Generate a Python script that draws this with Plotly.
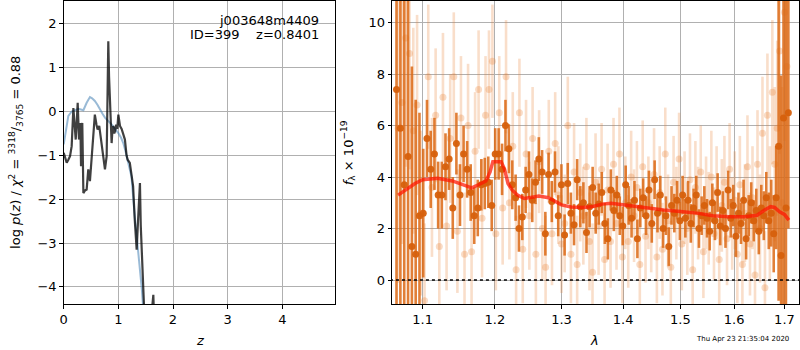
import numpy as np
import plotly.graph_objects as go

# ---------------- Left panel data ----------------
z_pz = [0.0, 0.04, 0.085, 0.146, 0.2, 0.27, 0.33, 0.36, 0.42, 0.48, 0.52, 0.57, 0.62, 0.66,
        0.71, 0.755, 0.82, 0.88, 0.94, 1.0, 1.05, 1.09, 1.13, 1.18, 1.24, 1.30, 1.365, 1.43, 1.46]
logp = [-0.75, -0.4, -0.1, 0.0, 0.02, 0.06, 0.04, 0.03, 0.2, 0.33, 0.3, 0.24, 0.15, 0.05,
        -0.05, -0.14, -0.22, -0.3, -0.4, -0.49, -0.6, -0.72, -0.9, -1.2, -1.48, -2.39, -3.15, -4.06, -4.6]

z_chi = [0, 0.03, 0.055, 0.085, 0.116, 0.146, 0.177, 0.2, 0.22, 0.24, 0.256, 0.27, 0.28, 0.293,
         0.305, 0.317, 0.33, 0.34, 0.36, 0.39, 0.42, 0.45, 0.48, 0.51, 0.54, 0.57, 0.6, 0.62,
         0.65, 0.67, 0.695, 0.72, 0.755, 0.786, 0.8, 0.816, 0.83, 0.847, 0.862, 0.877, 0.893,
         0.908, 0.925, 0.94, 0.96, 0.98, 1.0, 1.015, 1.03, 1.06, 1.09, 1.12, 1.15, 1.17, 1.21,
         1.24, 1.27, 1.30, 1.335, 1.36, 1.395, 1.41, 1.43, 1.46, 1.52, 1.58, 1.62, 1.64, 1.66]
chi_val = [-0.94, -1.05, -1.17, -1.1, -1.02, -0.79, 0.08, -0.3, -0.64, -0.2, 0.2, -0.3, -0.64, -0.4,
           -0.26, -1.25, -0.6, -0.26, -1.86, -1.8, -1.78, -1.32, -1.59, -1.1, -0.5, -0.07, -0.3, -0.41,
           -0.33, -0.5, -0.72, -1.0, -1.32, -1.02, 0.5, 1.6, 0.8, 0.27, -0.5, -0.72, -0.4,
           -0.33, -0.5, -0.45, -0.3, -0.4, -0.07, -0.2, -0.33, -0.4, -0.5, -0.64, -1.0, -1.1, -1.17,
           -1.4, -1.7, -2.47, -3.15, -2.5, -1.63, -2.6, -3.23, -4.37, -6.0, -5.0, -4.3, -4.18, -5.0]

left_xticks = [0, 1, 2, 3, 4]
left_yticks = [-4, -3, -2, -1, 0, 1, 2]

# ---------------- Right panel data ----------------
lam_dark_start, lam_dark_end, n_dark = 1.066, 1.708, 130
flux_dark = [7.4, 5.9, 3.7, 4.8, 1.3,
             1.0, 2.5, 2.6, 5.5, 4.3,
             4.9, 3.3, 3.3, 4.4, 4.7,
             2.8, 5.3, 3.3, 4.9, 4.3,
             3.4, 2.5, 2.8, 3.7, 3.75,
             3.8, 2.9, 4.9, 4.9, 4.3,
             6.0, 5.1, 3.7, 3.2, 2.0,
             2.45, 3.5, 4.1, 3.1, 3.8,
             4.7, 4.2, 1.8, 4.1, 3.05,
             4.2, 2.5, 3.7, 1.75, 3.75,
             2.6, 2.15, 3.9, 2.85, 3.0,
             1.85, 2.85, 3.6, 2.6, 2.95,
             3.4, 2.2, 1.6, 3.5, 2.7,
             3.3, 2.5, 2.1, 3.7, 2.9,
             2.4, 3.1, 1.6, 2.8, 3.2,
             2.5, 3.5, 2.2, 3.9, 2.6,
             3.3, 2.0, 2.5, 1.3, 2.9,
             2.6, 3.1, 2.3, 3.3, 2.4,
             3.1, 2.2, 2.8, 3.3, 2.0,
             2.5, 2.9, 2.4, 1.9, 3.0,
             2.3, 3.4, 2.1, 2.7, 2.0,
             3.5, 2.4, 2.9, 1.7, 2.6,
             2.2, 3.1, 1.6, 2.5, 3.0,
             2.3, 2.7, 1.9, 2.8, 2.5,
             3.2, 2.3, 2.6, 1.8, 3.2,
             5.2, 0.95, 6.3, 2.8, 6.5]
err_dark = [10, 9, 8, 8, 7,
            6, 4, 2.5, 1.5, 1.5,
            1.4, 1.3, 1.3, 1.3, 1.2,
            1.2, 1.2, 1.2, 1.1, 1.1,
            1.1, 1.1, 1.1, 1.0, 1.0,
            1.0, 1.0, 1.0, 1.0, 1.0,
            1.0, 0.95, 0.95, 0.9, 0.9,
            0.9, 0.9, 0.9, 0.85, 0.85,
            0.85, 0.85, 0.85, 0.85, 0.8,
            0.8, 0.8, 0.8, 0.8, 0.8,
            0.8, 0.8, 0.8, 0.8, 0.8,
            0.8, 0.8, 0.8, 0.8, 0.8,
            0.8, 0.8, 0.8, 0.8, 0.8,
            0.75, 0.75, 0.75, 0.75, 0.75,
            0.75, 0.75, 0.75, 0.75, 0.75,
            0.75, 0.75, 0.75, 0.75, 0.75,
            0.75, 0.75, 0.75, 0.75, 0.75,
            0.75, 0.75, 0.75, 0.75, 0.75,
            0.75, 0.75, 0.75, 0.75, 0.75,
            0.75, 0.75, 0.75, 0.75, 0.75,
            0.75, 0.75, 0.75, 0.75, 0.75,
            0.75, 0.75, 0.8, 0.8, 0.8,
            0.8, 0.8, 0.8, 0.8, 0.8,
            0.8, 0.85, 0.9, 0.9, 0.95,
            1.0, 1.1, 1.3, 1.5, 2.0,
            6.0, 7.0, 8.0, 9.0, 4.5]

lam_light_start, lam_light_end, n_light = 1.068, 1.705, 130
flux_light = [5.9, 6.9, 9.4, 8.8, 5.8,
              6.8, 2.6, -0.8, 7.9, 3.6,
              6.4, 1.3, 7.1, 2.1, 5.5,
              7.9, 1.9, 6.3, 1.0, 6.0,
              1.1, 5.0, 7.4, 2.4, 6.4,
              7.4, 8.5, 1.8, 6.5, 2.8,
              7.9, 3.0, 5.2, 0.4, 6.5,
              1.2, 4.9, 2.5, 5.5, 1.0,
              4.6, 2.0, 0.5, 5.0, 1.8,
              5.3, 3.3, 1.4, 2.2, 6.0,
              1.0, 4.2, 0.6, 3.4, 2.5,
              4.4, 1.5, 0.3, 3.8, 2.1,
              4.3, 0.8, 3.5, 1.5, 4.5,
              2.2, 4.9, 0.9, 3.0, 1.5,
              4.0, 2.5, 3.6, 0.6, 4.4,
              1.7, 3.0, 2.1, 4.1, 0.9,
              3.4, 1.2, 4.9, 2.3, 0.5,
              3.8, 2.6, 4.7, 1.4, 3.2,
              2.0, 3.9, 0.4, 3.6, 2.6,
              4.2, 1.1, 3.0, 2.4, 4.0,
              1.8, 3.4, 0.8, 2.9, 3.8,
              1.6, 4.3, 2.2, 3.1, 1.0,
              3.7, 0.6, 2.6, 4.4, 1.4,
              3.2, 0.2, 4.5, 2.0, 5.7,
              -0.3, 6.4, 2.6, 7.3, 4.5,
              5.9, 8.9, 3.0, 10.4, 8.3]
err_light = [6.0, 5.5, 5.0, 4.5, 4.0,
             3.5, 3.2, 3.0, 2.8, 2.7,
             2.6, 2.6, 2.5, 2.5, 2.5,
             2.5, 2.4, 2.4, 2.4, 2.4,
             2.3, 2.3, 2.3, 2.3, 2.3,
             2.3, 2.2, 2.2, 2.2, 2.2,
             2.2, 2.2, 2.1, 2.1, 2.1,
             2.1, 2.1, 2.1, 2.0, 2.0,
             2.0, 2.0, 2.0, 2.0, 2.0,
             2.0, 1.9, 1.9, 1.9, 1.9,
             1.9, 1.9, 1.9, 1.9, 1.9,
             1.9, 1.9, 1.9, 1.9, 1.9,
             1.8, 1.8, 1.8, 1.8, 1.8,
             1.8, 1.8, 1.8, 1.8, 1.8,
             1.8, 1.8, 1.8, 1.8, 1.8,
             1.8, 1.8, 1.8, 1.8, 1.8,
             1.8, 1.8, 1.8, 1.8, 1.8,
             1.8, 1.8, 1.8, 1.8, 1.8,
             1.8, 1.8, 1.8, 1.8, 1.8,
             1.8, 1.8, 1.8, 1.8, 1.8,
             1.8, 1.8, 1.8, 1.8, 1.8,
             1.8, 1.8, 1.8, 1.9, 1.9,
             1.9, 1.9, 1.9, 2.0, 2.0,
             2.0, 2.0, 2.1, 2.1, 2.2,
             2.2, 2.4, 2.6, 2.8, 3.0,
             3.4, 4.0, 4.5, 5.0, 5.5]

lam_model = [1.068, 1.08, 1.09, 1.10, 1.12, 1.14, 1.155, 1.167, 1.178, 1.187, 1.193, 1.197, 1.209,
             1.214, 1.219, 1.225, 1.233, 1.243, 1.255, 1.265, 1.28, 1.29, 1.30, 1.315, 1.335, 1.35,
             1.365, 1.38, 1.40, 1.42, 1.44, 1.47, 1.50, 1.53, 1.56, 1.59, 1.62, 1.645, 1.66, 1.672,
             1.68, 1.69, 1.70, 1.709]
flux_model = [3.3, 3.55, 3.75, 3.9, 3.95, 3.85, 3.7, 3.58, 3.72, 3.85, 4.2, 4.6, 4.6,
              4.3, 3.75, 3.5, 3.3, 3.17, 3.22, 3.26, 3.2, 3.05, 2.92, 2.84, 2.82, 2.86,
              2.95, 2.98, 2.92, 2.85, 2.79, 2.72, 2.66, 2.6, 2.5, 2.46, 2.46, 2.52, 2.72, 2.85,
              2.82, 2.65, 2.55, 2.33]

right_xticks = [1.1, 1.2, 1.3, 1.4, 1.5, 1.6, 1.7]
right_yticks = [0, 2, 4, 6, 8, 10]

lam_dark = np.linspace(lam_dark_start, lam_dark_end, n_dark)
lam_light = np.linspace(lam_light_start, lam_light_end, n_light)

# ---------------- Figure ----------------
W, H = 800, 350
fig = go.Figure()

fig.add_trace(go.Scatter(x=z_pz, y=logp, mode="lines", xaxis="x", yaxis="y",
                         line=dict(color="rgba(70,130,180,0.55)", width=2), showlegend=False))
fig.add_trace(go.Scatter(x=z_chi, y=chi_val, mode="lines", xaxis="x", yaxis="y",
                         line=dict(color="rgba(0,0,0,0.75)", width=2.2), showlegend=False))

fig.add_trace(go.Scatter(x=lam_light, y=flux_light, mode="markers", xaxis="x2", yaxis="y2",
                         marker=dict(color="rgba(232,125,45,0.28)", size=7, line=dict(width=0)),
                         error_y=dict(type="data", array=err_light, visible=True, width=0,
                                      thickness=2.6, color="rgba(232,125,45,0.25)"),
                         showlegend=False))
fig.add_trace(go.Scatter(x=lam_dark, y=flux_dark, mode="markers", xaxis="x2", yaxis="y2",
                         marker=dict(color="rgba(214,96,12,0.95)", size=7, line=dict(width=0)),
                         error_y=dict(type="data", array=err_dark, visible=True, width=0,
                                      thickness=2.6, color="rgba(220,105,20,0.85)"),
                         showlegend=False))
fig.add_trace(go.Scatter(x=lam_model, y=flux_model, mode="lines", xaxis="x2", yaxis="y2",
                         line=dict(color="rgba(255,20,0,0.72)", width=3.5),
                         showlegend=False))
fig.add_trace(go.Scatter(x=[1.05, 1.75], y=[0, 0], mode="lines", xaxis="x2", yaxis="y2",
                         line=dict(color="black", width=1.6, dash="dot"), showlegend=False))

ydom = [1 - 304 / H, 1 - 1 / H]
axis_common = dict(showline=True, linecolor="black", linewidth=1, mirror=True,
                   ticks="outside", ticklen=3.5, tickcolor="black", tickwidth=1,
                   showgrid=True, gridcolor="#b0b0b0", gridwidth=1, zeroline=False,
                   tickfont=dict(family="DejaVu Sans", size=13, color="black"))

fig.update_layout(
    width=W, height=H, margin=dict(l=0, r=0, t=0, b=0),
    paper_bgcolor="white", plot_bgcolor="white", showlegend=False,
    xaxis=dict(domain=[60 / W, 333 / W], range=[0, 4.97], tickvals=left_xticks,
               anchor="y", **axis_common),
    yaxis=dict(domain=ydom, range=[-4.39, 2.52], tickvals=left_yticks,
               ticktext=[("−" + str(abs(v))) if v < 0 else str(v) for v in left_yticks],
               anchor="x", **axis_common),
    xaxis2=dict(domain=[390 / W, 799 / W], type="log",
                range=[np.log10(1.0603), np.log10(1.730)], tickvals=right_xticks,
                ticktext=[f"{v:.1f}" for v in right_xticks], anchor="y2", **axis_common),
    yaxis2=dict(domain=ydom, range=[-0.93, 10.84], tickvals=right_yticks,
                anchor="x2", **axis_common),
)

font = dict(family="DejaVu Sans", size=13, color="black")
ann = [
    dict(x=319 / W, y=1 - 20 / H, text="j003648m4409", xanchor="right", yanchor="middle"),
    dict(x=319 / W, y=1 - 35 / H, text="ID=399    z=0.8401", xanchor="right", yanchor="middle"),
    dict(x=197 / W, y=1 - 340 / H, text="<i>z</i>", xanchor="center", yanchor="middle"),
    dict(x=593 / W, y=1 - 340 / H, text="<i>λ</i>", xanchor="center", yanchor="middle"),
    dict(x=12 / W, y=1 - 152 / H,
         text="log <i>p</i>(<i>z</i>) / <i>χ</i><sup>2</sup> = <sup>3318</sup>/<sub>3765</sub> = 0.88",
         textangle=-90, xanchor="center", yanchor="middle"),
    dict(x=346 / W, y=1 - 153 / H, text="<i>f</i><sub>λ</sub> × 10<sup>−19</sup>",
         textangle=-90, xanchor="center", yanchor="middle"),
]
annotations = []
for a in ann:
    a.update(xref="paper", yref="paper", showarrow=False, font=font)
    annotations.append(a)
annotations.append(dict(x=742 / W, y=1 - 339 / H, xref="paper", yref="paper", showarrow=False,
                        text="Thu Apr 23 21:35:04 2020", xanchor="center", yanchor="middle",
                        font=dict(family="DejaVu Sans", size=7, color="black")))
fig.update_layout(annotations=annotations)

fig.write_html("out.html", config={"displayModeBar": False},
               post_script="document.body.style.margin='0';document.body.style.padding='0';"
                           "document.body.style.overflow='hidden';")
